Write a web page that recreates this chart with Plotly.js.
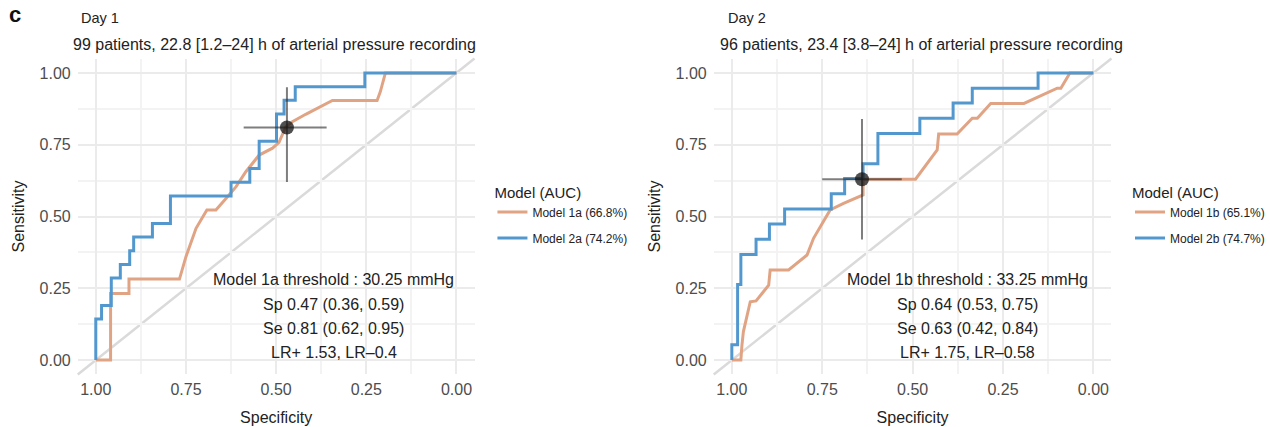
<!DOCTYPE html>
<html>
<head>
<meta charset="utf-8">
<script src="https://cdn.plot.ly/plotly-3.0.1.min.js"></script>
<style>html,body{margin:0;padding:0;background:#fff;}#chart{width:1270px;height:427px;}</style>
</head>
<body>
<div id="chart"></div>
<script>
// ---- Day 1 ROC curves (specificity, sensitivity) ----
const day1Model1aSpec = [1.0,0.959,0.959,0.908,0.908,0.768,0.750,0.722,0.692,0.667,0.639,0.611,0.584,0.547,0.510,0.492,0.473,0.455,0.418,0.381,0.344,0.220,0.211,0.197,0.0];
const day1Model1aSens = [0.0,0.0,0.232,0.232,0.282,0.282,0.360,0.459,0.523,0.523,0.563,0.604,0.656,0.714,0.738,0.758,0.813,0.830,0.856,0.879,0.904,0.904,0.935,1.0,1.0];
const day1Model2aSpec = [1.0,1.0,0.984,0.984,0.957,0.957,0.932,0.932,0.906,0.906,0.895,0.895,0.843,0.843,0.793,0.793,0.625,0.625,0.573,0.573,0.547,0.547,0.499,0.499,0.478,0.478,0.447,0.447,0.254,0.254,0.0];
const day1Model2aSens = [0.0,0.143,0.143,0.190,0.190,0.286,0.286,0.333,0.333,0.381,0.381,0.429,0.429,0.476,0.476,0.571,0.571,0.619,0.619,0.667,0.667,0.762,0.762,0.857,0.857,0.905,0.905,0.952,0.952,1.0,1.0];

// ---- Day 2 ROC curves ----
const day2Model1bSpec = [1.0,0.975,0.972,0.968,0.949,0.933,0.898,0.894,0.843,0.792,0.774,0.728,0.691,0.637,0.637,0.492,0.432,0.428,0.377,0.335,0.321,0.284,0.192,0.100,0.090,0.065,0.0];
const day2Model1bSens = [0.0,0.0,0.052,0.099,0.203,0.206,0.261,0.314,0.314,0.366,0.424,0.523,0.546,0.575,0.630,0.630,0.732,0.787,0.787,0.842,0.842,0.894,0.894,0.947,0.947,1.0,1.0];
const day2Model2bSpec = [1.0,1.0,0.984,0.984,0.975,0.975,0.933,0.933,0.896,0.896,0.854,0.854,0.725,0.725,0.688,0.688,0.637,0.637,0.596,0.596,0.480,0.480,0.388,0.388,0.335,0.335,0.153,0.153,0.0];
const day2Model2bSens = [0.0,0.053,0.053,0.263,0.263,0.368,0.368,0.421,0.421,0.474,0.474,0.526,0.526,0.579,0.579,0.632,0.632,0.684,0.684,0.789,0.789,0.842,0.842,0.895,0.895,0.947,0.947,1.0,1.0];

// ---- Thresholds (Model 1a, Model 1b) ----
const thrNames = ["Model 1a", "Model 1b"];
const thrMmHg = ["30.25", "33.25"];
const thrSp = [0.47, 0.64];
const thrSpLo = [0.36, 0.53];
const thrSpHi = [0.59, 0.75];
const thrSe = [0.81, 0.63];
const thrSeLo = [0.62, 0.42];
const thrSeHi = [0.95, 0.84];
const thrLRpos = ["1.53", "1.75"];
const thrLRneg = ["0.4", "0.58"];

// ---- Legend labels ----
const legendNames = [["Model 1a (66.8%)", "Model 2a (74.2%)"], ["Model 1b (65.1%)", "Model 2b (74.7%)"]];
const panelTitles = ["Day 1", "Day 2"];
const panelSubtitles = ["99 patients, 22.8 [1.2\u201324] h of arterial pressure recording",
                        "96 patients, 23.4 [3.8\u201324] h of arterial pressure recording"];
const tickVals = [0, 0.25, 0.5, 0.75, 1];
const tickText = ["0.00", "0.25", "0.50", "0.75", "1.00"];
const minorVals = [0.125, 0.375, 0.625, 0.875];

const ORANGE = "rgb(224,164,133)";
const BLUE = "rgb(82,152,206)";
const FONT = "Liberation Sans, Arial, Helvetica, sans-serif";
const W = 1270, H = 427;
const px = v => v / W, py = v => 1 - v / H;

function curve(x, y, name, color, xa, ya, legend, group) {
  return {type: "scatter", mode: "lines", x: x, y: y, name: name, xaxis: xa, yaxis: ya,
    legend: legend, legendgroup: group,
    line: {color: color, width: 3}, hoverinfo: "x+y"};
}
function thrPoint(i, xa, ya) {
  return {type: "scatter", mode: "markers", x: [thrSp[i]], y: [thrSe[i]], xaxis: xa, yaxis: ya,
    showlegend: false,
    marker: {size: 14, color: "rgba(20,20,20,0.75)"},
    error_x: {type: "data", symmetric: false, array: [thrSpHi[i] - thrSp[i]], arrayminus: [thrSp[i] - thrSpLo[i]],
      color: "rgba(40,40,40,0.6)", thickness: 2, width: 0},
    error_y: {type: "data", symmetric: false, array: [thrSeHi[i] - thrSe[i]], arrayminus: [thrSe[i] - thrSeLo[i]],
      color: "rgba(40,40,40,0.6)", thickness: 2, width: 0}};
}

const data = [
  curve(day1Model1aSpec, day1Model1aSens, legendNames[0][0], ORANGE, "x", "y", "legend", "a1"),
  curve(day1Model2aSpec, day1Model2aSens, legendNames[0][1], BLUE, "x", "y", "legend", "a2"),
  thrPoint(0, "x", "y"),
  curve(day2Model1bSpec, day2Model1bSens, legendNames[1][0], ORANGE, "x2", "y2", "legend2", "b1"),
  curve(day2Model2bSpec, day2Model2bSens, legendNames[1][1], BLUE, "x2", "y2", "legend2", "b2"),
  thrPoint(1, "x2", "y2")
];

const yDom = [py(374.4), py(58.6)];
function xAxis(dom, anchor) {
  return {domain: dom, anchor: anchor, range: [1.05, -0.05], autorange: false,
    tickvals: tickVals, ticktext: tickText, ticks: "", showline: false, zeroline: false,
    gridcolor: "#ebebeb", gridwidth: 2, ticklabelstandoff: 4,
    minor: {tickvals: minorVals, showgrid: true, gridcolor: "#f3f3f3", gridwidth: 2},
    tickfont: {family: FONT, size: 16, color: "#4d4d4d"},
    title: {text: "Specificity", font: {family: FONT, size: 16, color: "#222"}, standoff: 14},
    automargin: false};
}
function yAxis(anchor) {
  return {domain: yDom, anchor: anchor, range: [-0.05, 1.05], autorange: false,
    tickvals: tickVals, ticktext: tickText, ticks: "", showline: false, zeroline: false,
    gridcolor: "#ebebeb", gridwidth: 2, ticklabelstandoff: 6,
    minor: {tickvals: minorVals, showgrid: true, gridcolor: "#f3f3f3", gridwidth: 2},
    tickfont: {family: FONT, size: 16, color: "#4d4d4d"},
    title: {text: "Sensitivity", font: {family: FONT, size: 16, color: "#222"}, standoff: 11},
    automargin: false};
}

const annotations = [];
const textYs = [0.279, 0.195, 0.111, 0.028];
const textX = [0.34, 0.347];
[["x", "y"], ["x2", "y2"]].forEach(([xa, ya], i) => {
  const lines = [
    thrNames[i] + " threshold : " + thrMmHg[i] + " mmHg",
    "Sp " + thrSp[i].toFixed(2) + " (" + thrSpLo[i].toFixed(2) + ", " + thrSpHi[i].toFixed(2) + ")",
    "Se " + thrSe[i].toFixed(2) + " (" + thrSeLo[i].toFixed(2) + ", " + thrSeHi[i].toFixed(2) + ")",
    "LR+ " + thrLRpos[i] + ", LR\u2013" + thrLRneg[i]
  ];
  lines.forEach((t, k) => annotations.push({xref: xa, yref: ya, x: textX[i], y: textYs[k], text: t,
    showarrow: false, xanchor: "center", yanchor: "middle", font: {family: FONT, size: 16, color: "#222"}}));
});
const titleX = [79, 728], subX = [71, 720];
for (let i = 0; i < 2; i++) {
  annotations.push({xref: "paper", yref: "paper", x: px(titleX[i]), y: py(18), text: panelTitles[i], showarrow: false,
    xanchor: "left", yanchor: "middle", font: {family: FONT, size: 14.5, color: "#222"}});
  annotations.push({xref: "paper", yref: "paper", x: px(subX[i]), y: py(44), text: panelSubtitles[i], showarrow: false,
    xanchor: "left", yanchor: "middle", font: {family: FONT, size: 16, color: "#222"}});
}
annotations.push({xref: "paper", yref: "paper", x: px(7), y: py(14), text: "<b>c</b>", showarrow: false,
  xanchor: "left", yanchor: "middle", font: {family: FONT, size: 22, color: "#111"}});

function diag(xr, yr) {
  return {type: "line", xref: xr + " domain", yref: yr + " domain", x0: 0, y0: 0, x1: 1, y1: 1,
    line: {color: "rgb(218,218,218)", width: 2.5}, layer: "below"};
}

function legendCfg(x) {
  return {x: x, y: py(178), xanchor: "left", yanchor: "top", bgcolor: "rgba(0,0,0,0)",
    title: {text: "Model (AUC)", side: "top", font: {family: FONT, size: 15, color: "#222"}},
    font: {family: FONT, size: 12, color: "#222"}, tracegroupgap: 7, itemwidth: 30};
}

const layout = {
  width: W, height: H, margin: {l: 0, r: 0, t: 0, b: 0},
  paper_bgcolor: "#fff", plot_bgcolor: "#fff",
  font: {family: FONT, size: 16, color: "#222"},
  xaxis: xAxis([px(78), px(476)], "y"),
  yaxis: yAxis("x"),
  xaxis2: xAxis([px(716), px(1115)], "y2"),
  yaxis2: yAxis("x2"),
  shapes: [diag("x", "y"), diag("x2", "y2")],
  annotations: annotations,
  legend: legendCfg(px(494)),
  legend2: legendCfg(px(1134)),
  showlegend: true
};

Plotly.newPlot("chart", data, layout, {displayModeBar: false, staticPlot: true});
</script>
</body>
</html>
